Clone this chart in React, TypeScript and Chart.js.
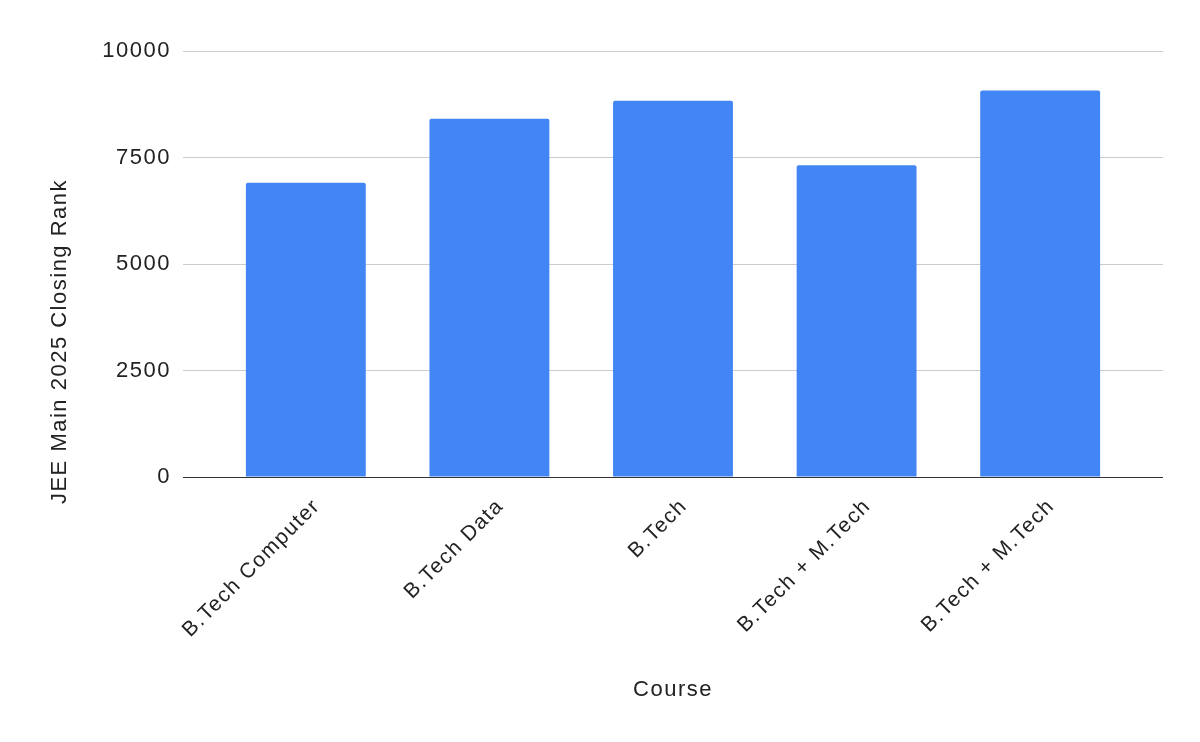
import React, { useEffect, useRef } from 'react';
import { Chart, registerables } from 'chart.js';

Chart.register(...registerables);

// Data
const courses = ['B.Tech Computer', 'B.Tech Data', 'B.Tech', 'B.Tech + M.Tech', 'B.Tech + M.Tech'];
const closingRanks = [6910, 8410, 8830, 7320, 9070];
const yTicks = [0, 2500, 5000, 7500, 10000];

const FONT = '"Liberation Sans", Arial, sans-serif';
const TEXT = '#222222';
const SPACING = '1.5px';

// Google-style charts leave some room between the outer bars and the plot edge
const SIDE_PAD = 0.169;

// the reference text is set a bit loose, so widen the canvas letter spacing
const spacingPlugin = {
  id: 'spacing',
  beforeUpdate(chart: any) {
    chart.ctx.letterSpacing = SPACING;
  },
  beforeDraw(chart: any) {
    chart.ctx.letterSpacing = SPACING;
  },
};

const yTitlePlugin = {
  id: 'yTitle',
  afterDraw(chart: any) {
    const { ctx, chartArea } = chart;
    ctx.save();
    ctx.letterSpacing = SPACING;
    ctx.font = `22px ${FONT}`;
    ctx.fillStyle = TEXT;
    ctx.textAlign = 'center';
    ctx.textBaseline = 'middle';
    ctx.translate(chartArea.left - 123, (chartArea.top + chart.height - 110) / 2);
    ctx.rotate(-Math.PI / 2);
    ctx.fillText('JEE Main 2025 Closing Rank', 0, 0);
    ctx.restore();
  },
};

const App: React.FC = () => {
  const canvasRef = useRef<HTMLCanvasElement>(null);

  useEffect(() => {
    if (!canvasRef.current) return;
    const chart = new Chart(canvasRef.current, {
      type: 'bar',
      data: {
        labels: courses,
        datasets: [
          {
            data: closingRanks,
            backgroundColor: '#4285F4',
            borderRadius: 2,
            borderSkipped: 'start',
            barPercentage: 0.653,
            categoryPercentage: 1,
          },
        ],
      },
      options: {
        responsive: false,
        animation: false,
        layout: { padding: { top: 51, right: 37, left: 0, bottom: 0 } },
        plugins: {
          legend: { display: false },
          tooltip: { enabled: false },
        },
        scales: {
          x: {
            grid: { display: false },
            border: { display: false },
            ticks: {
              autoSkip: false,
              minRotation: 45,
              maxRotation: 45,
              padding: 9,
              labelOffset: 11,
              color: TEXT,
              font: { family: FONT, size: 21 },
            },
            title: {
              display: true,
              text: 'Course',
              color: TEXT,
              font: { family: FONT, size: 22 },
              padding: { top: 0, bottom: 39 },
            },
            afterBuildTicks: (scale: any) => {
              scale._startValue -= SIDE_PAD;
              scale._valueRange += 2 * SIDE_PAD;
            },
            afterFit: (scale: any) => {
              scale.height = 265;
            },
          },
          y: {
            min: 0,
            max: 10000,
            afterBuildTicks: (scale: any) => {
              scale.ticks = yTicks.map((v) => ({ value: v }));
            },
            grid: {
              color: (ctx: any) => (ctx.tick && ctx.tick.value === 0 ? '#333333' : '#cccccc'),
              lineWidth: 1,
              drawTicks: false,
            },
            border: { display: false },
            ticks: {
              padding: 12,
              color: TEXT,
              font: { family: FONT, size: 22 },
              callback: (value: any) => String(value),
            },
            afterFit: (scale: any) => {
              scale.width = 183;
            },
          },
        },
      },
      plugins: [spacingPlugin, yTitlePlugin],
    } as any);
    return () => chart.destroy();
  }, []);

  return (
    <div style={{ position: 'absolute', left: 0, top: 0, width: 1200, height: 742, background: '#ffffff' }}>
      <canvas ref={canvasRef} width={1200} height={742} />
    </div>
  );
};

export default App;
